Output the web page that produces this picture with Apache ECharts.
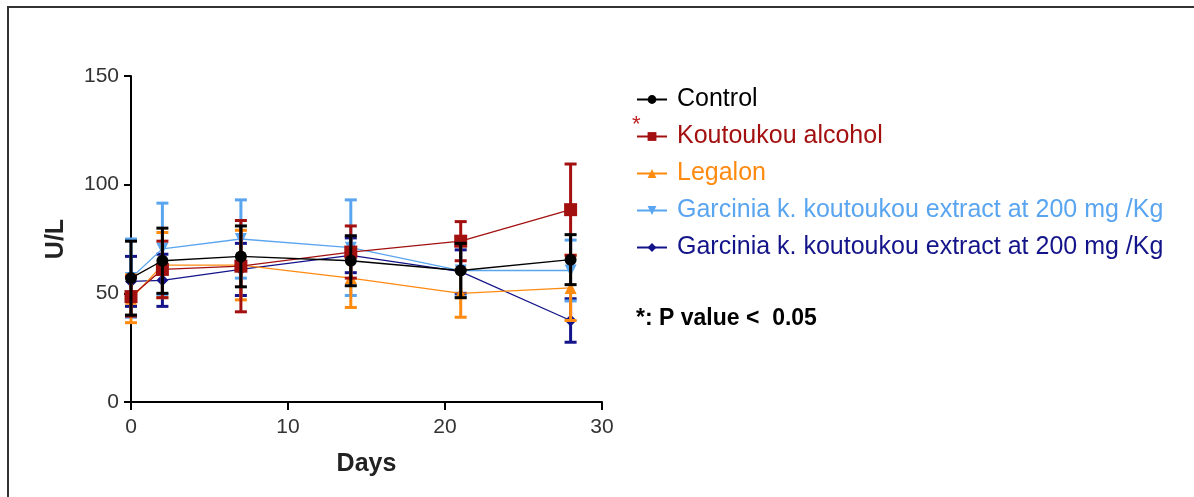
<!DOCTYPE html>
<html>
<head>
<meta charset="utf-8">
<script src="https://cdn.jsdelivr.net/npm/echarts@6/dist/echarts.min.js"></script>
<style>
  html, body { margin: 0; padding: 0; background: #fff; }
  #chart { width: 1194px; height: 497px; }
</style>
</head>
<body>
<div id="chart"></div>
<script>
var days = [0, 2, 7, 14, 21, 28];

var control = [57, 65, 67, 65, 60.5, 65.5];
var controlSd = [17, 15, 14, 11.5, 12.5, 11.5];

var koutoukou = [48.5, 61, 62.5, 69, 74, 88.5];
var koutoukouSd = [9, 13, 21, 12, 9, 21];

var legalon = [47.5, 63, 63, 57, 50, 52.5];
var legalonSd = [11, 15, 16, 13.5, 11, 15];

var garciniaLight = [57, 70.5, 75, 71, 60.5, 60.5];
var garciniaLightSd = [18, 21, 18, 22, 12, 14];

var garciniaDark = [55.5, 56, 61, 67.5, 60, 37.5];
var garciniaDarkSd = [11.5, 12, 12, 8, 10, 10];

var yTicks = [0, 50, 100, 150];

var font = 'Liberation Sans, Arial, sans-serif';

var groups = [
    { name: 'Garcinia k. koutoukou extract at 200 mg /Kg\u200b', color: '#14148a', symbol: 'diamond', rot: 0, mean: garciniaDark, sd: garciniaDarkSd, z: 2 },
    { name: 'Garcinia k. koutoukou extract at 200 mg /Kg', color: '#5aa5f0', symbol: 'triangle', rot: 180, mean: garciniaLight, sd: garciniaLightSd, z: 3 },
    { name: 'Legalon', color: '#ff8a10', symbol: 'triangle', rot: 0, mean: legalon, sd: legalonSd, z: 4 },
    { name: 'Koutoukou alcohol', color: '#a31010', symbol: 'rect', rot: 0, mean: koutoukou, sd: koutoukouSd, z: 5 },
    { name: 'Control', color: '#000000', symbol: 'circle', rot: 0, mean: control, sd: controlSd, z: 6 }
];

function errorBars(color) {
    return function (params, api) {
        var x = api.value(0), m = api.value(1), s = api.value(2);
        var top = api.coord([x, m + s]);
        var bot = api.coord([x, m - s]);
        var hw = 6;
        var st = { stroke: color, lineWidth: 3 };
        return {
            type: 'group',
            children: [
                { type: 'line', shape: { x1: top[0], y1: top[1], x2: bot[0], y2: bot[1] }, style: st },
                { type: 'line', shape: { x1: top[0] - hw, y1: top[1], x2: top[0] + hw, y2: top[1] }, style: st },
                { type: 'line', shape: { x1: bot[0] - hw, y1: bot[1], x2: bot[0] + hw, y2: bot[1] }, style: st }
            ]
        };
    };
}

var series = [];
groups.forEach(function (g) {
    series.push({
        name: g.name,
        type: 'line',
        z: g.z * 2 + 1,
        data: days.map(function (d, i) { return [d, g.mean[i]]; }),
        symbol: g.symbol,
        symbolSize: g.symbol === 'rect' ? 13 : 12,
        symbolRotate: g.rot,
        lineStyle: { color: g.color, width: 1.3 },
        itemStyle: { color: g.color },
        emphasis: { disabled: true }
    });
    series.push({
        name: g.name,
        type: 'custom',
        z: g.z * 2,
        renderItem: errorBars(g.color),
        data: days.map(function (d, i) { return [d, g.mean[i], g.sd[i]]; }),
        silent: true
    });
});

var legendNames = [groups[4], groups[3], groups[2], groups[1], groups[0]];

var myChart = echarts.init(document.getElementById('chart'));
var option = {
    animation: false,
    backgroundColor: '#fff',
    grid: { left: 131, right: 592, top: 76, bottom: 95 },
    legend: {
        orient: 'vertical',
        left: 631,
        top: 82,
        itemWidth: 30,
        itemHeight: 11,
        itemGap: 12,
        selectedMode: false,
        textStyle: { fontFamily: font, fontSize: 25, padding: [0, 0, 0, 5] },
        data: legendNames.map(function (g) {
            return { name: g.name, textStyle: { color: g.color } };
        })
    },
    xAxis: {
        type: 'value',
        min: 0,
        max: 30,
        interval: 10,
        name: 'Days',
        nameLocation: 'middle',
        nameGap: 50,
        nameTextStyle: { fontFamily: font, fontSize: 25, fontWeight: 'bold', color: '#222' },
        axisLine: { lineStyle: { color: '#000', width: 2 } },
        axisTick: { length: 8, lineStyle: { color: '#000', width: 2 } },
        axisLabel: { fontFamily: font, fontSize: 21, color: '#333', margin: 15 },
        splitLine: { show: false }
    },
    yAxis: {
        type: 'value',
        min: yTicks[0],
        max: yTicks[yTicks.length - 1],
        interval: 50,
        name: 'U/L',
        nameLocation: 'middle',
        nameGap: 62,
        nameTextStyle: { fontFamily: font, fontSize: 25, fontWeight: 'bold', color: '#222' },
        axisLine: { show: true, lineStyle: { color: '#000', width: 2 } },
        axisTick: { show: true, length: 7, lineStyle: { color: '#000', width: 2 } },
        axisLabel: { fontFamily: font, fontSize: 21, color: '#333', margin: 12 },
        splitLine: { show: false }
    },
    graphic: [
        {
            type: 'rect',
            shape: { x: 8, y: 7, width: 1400, height: 700 },
            style: { fill: 'none', stroke: '#333', lineWidth: 2 },
            silent: true
        },
        {
            type: 'text',
            left: 632,
            top: 114,
            style: { text: '*', fill: '#c02020', font: '22px ' + font }
        },
        {
            type: 'text',
            left: 636,
            top: 307,
            style: { text: '*: P value <  0.05', fill: '#000', font: 'bold 23px ' + font }
        }
    ],
    series: series
};

myChart.setOption(option);
</script>
</body>
</html>
